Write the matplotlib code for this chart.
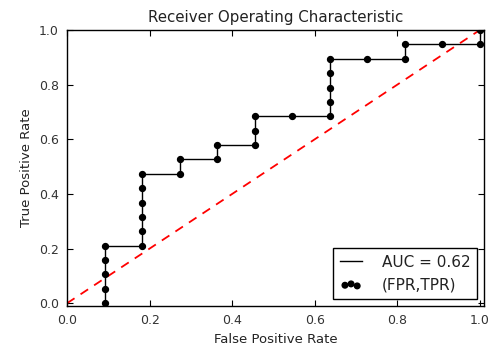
import matplotlib
matplotlib.use("Agg")
import matplotlib.pyplot as plt
import numpy as np

fpr = [0.0909, 0.0909, 0.0909, 0.0909, 0.0909,
       0.1818, 0.1818, 0.1818, 0.1818, 0.1818, 0.1818,
       0.2727, 0.2727,
       0.3636, 0.3636,
       0.4545, 0.4545, 0.4545,
       0.5455,
       0.6364, 0.6364, 0.6364, 0.6364, 0.6364,
       0.7273,
       0.8182, 0.8182,
       0.9091,
       1.0, 1.0]
tpr = [0.0, 0.0526, 0.1053, 0.1579, 0.2105,
       0.2105, 0.2632, 0.3158, 0.3684, 0.4211, 0.4737,
       0.4737, 0.5263,
       0.5263, 0.5789,
       0.5789, 0.6316, 0.6842,
       0.6842,
       0.6842, 0.7368, 0.7895, 0.8421, 0.8947,
       0.8947,
       0.8947, 0.9474,
       0.9474,
       0.9474, 1.0]
auc_value = 0.62

fig = plt.figure(figsize=(5.02, 3.54), dpi=100)
ax = fig.add_axes([67/502, 1 - 306/354, (484-67)/502, (306-30)/354])

ax.plot(fpr, tpr, color='black', lw=1, label='AUC = %0.2f' % auc_value)
ax.scatter(fpr, tpr, color='black', s=18, zorder=3, label='(FPR,TPR)')
ax.plot([0, 1], [0, 1], color='red', ls='--', lw=1.3, dashes=(5, 4))

ax.set_xlim(0, 1.01)
ax.set_ylim(-0.01, 1.0)
ax.set_xticks(np.arange(0, 1.01, 0.2))
ax.set_yticks(np.arange(0, 1.01, 0.2))
ax.tick_params(direction='in', top=True, right=True, labelsize=9, length=4, pad=6,
               labelcolor='#333333')
for s in ax.spines.values():
    s.set_linewidth(1)
ax.set_title('Receiver Operating Characteristic', fontsize=10.8, color='#222222')
ax.set_xlabel('False Positive Rate', fontsize=9.5, color='#222222')
ax.set_ylabel('True Positive Rate', fontsize=9.5, color='#222222')

leg = ax.legend(loc='lower right', scatterpoints=3, fontsize=11, fancybox=False,
                edgecolor='black', framealpha=1, borderpad=0.45, handlelength=1.4,
                handletextpad=1.3, markerscale=0.95, borderaxespad=0.45)
leg.get_frame().set_linewidth(1)
for t in leg.get_texts():
    t.set_color('#222222')

fig.savefig('out.png', dpi=100, facecolor='white')
